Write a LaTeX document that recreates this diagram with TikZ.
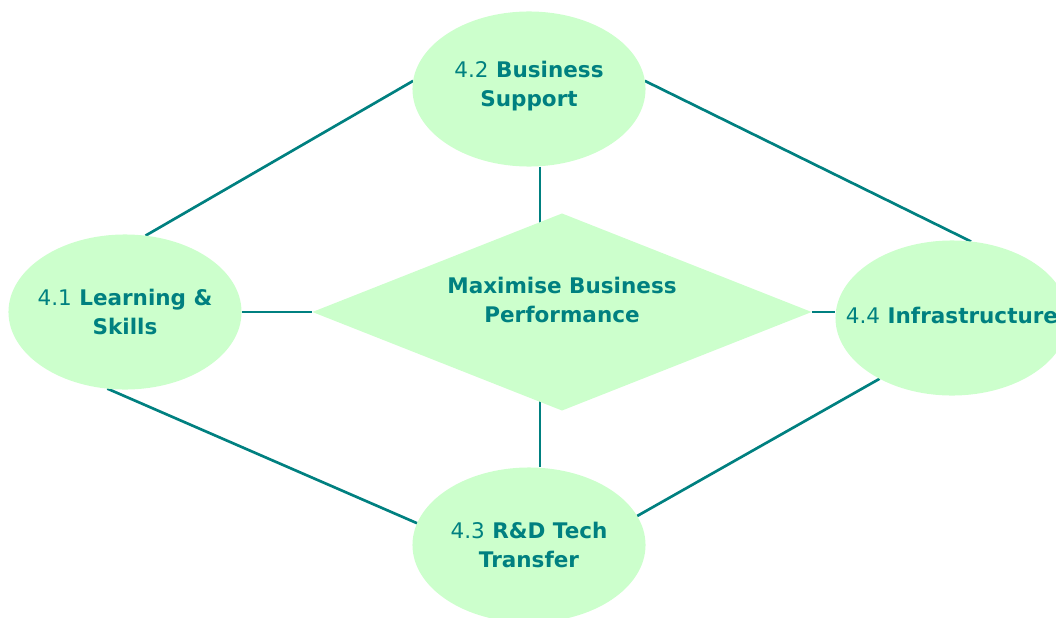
\documentclass[tikz,border=0pt]{standalone}
\usepackage{fontspec}
\setmainfont{DejaVu Sans}
\usetikzlibrary{shapes.geometric,backgrounds}
\definecolor{mint}{RGB}{204,255,204}
\definecolor{deepteal}{RGB}{0,128,128}

\begin{document}
\begin{tikzpicture}[x=0.025cm, y=-0.025cm,
    bubble/.style={ellipse, fill=mint, inner sep=0pt, outer sep=0pt,
        minimum width=5.825cm, minimum height=3.875cm},
    goal/.style={diamond, fill=mint, inner sep=0pt, outer sep=0pt,
        minimum width=12.475cm, minimum height=4.925cm},
    tag/.style={align=center, text=deepteal, inner sep=0pt,
        font=\bfseries\fontsize{15.3}{20.5}\selectfont},
    link/.style={draw=deepteal, line width=1.9pt}]

    %% Background
    \useasboundingbox (0,0) rectangle (1056,617);

  % Centre
  \node[goal, label={[tag, yshift=0.3cm]center:Maximise Business\\Performance}] (dia) at (562,312) {};

  % Themes
  \node[bubble, label={[tag, yshift=0.07cm]center:{\mdseries 4.2} Business\\Support}] (top) at (529,89) {};
  \node[bubble, label={[tag]center:{\mdseries 4.1} Learning \&\\Skills}] (left) at (125,312) {};
  \node[bubble, label={[tag]center:{\mdseries 4.3} R\&D Tech\\Transfer}] (low) at (529,545) {};
  \node[bubble, label={[tag, yshift=0.07cm]center:{\mdseries 4.4} Infrastructure}] (right) at (952,318) {};

  % Links
  \begin{scope}[on background layer]
    \draw[link] (top.176) -- (left.75);
    \draw[link] (top.4) -- (right.76);
    \draw[link] (left.257) -- (low.169);
    \draw[link] (low.15) -- (right.220);
    \draw[link] (left.east) -- (dia.west);
    \draw[link] (dia.east) -- (dia.east -| right.west);
    \draw[link] ([xshift=0.275cm]top.south) -- ([xshift=0.275cm]top.south |- dia.center);
    \draw[link] ([xshift=0.275cm]low.north) -- ([xshift=0.275cm]low.north |- dia.center);
  \end{scope}

\end{tikzpicture}
\end{document}
